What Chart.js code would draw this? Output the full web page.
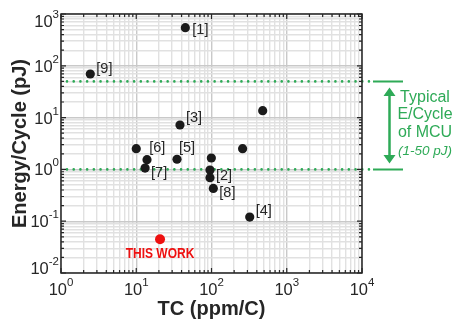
<!DOCTYPE html>
<html>
<head>
<meta charset="utf-8">
<script src="https://cdn.jsdelivr.net/npm/chart.js@4"></script>
<style>
  html, body { margin: 0; padding: 0; background: #fff; }
  #wrap { width: 453px; height: 320px; }
</style>
</head>
<body>
<div id="wrap"><canvas id="chart"></canvas></div>
<script>
// ---- data ----
const refTC     = [44.9, 2.45, 38.1, 10.0, 13.9, 13.1, 34.8, 99.5, 95.5, 95.5, 105.7, 259, 479, 322];
const refEnergy = [545, 69.5, 7.2, 2.51, 1.54, 1.06, 1.57, 1.66, 0.97, 0.69, 0.43, 2.51, 13.6, 0.12];
const refNames  = ['[1]', '[9]', '[3]', '[6]', '', '[7]', '[5]', '', '[2]', '', '[8]', '', '', '[4]'];
const thisTC = [20.7];
const thisEnergy = [0.0448];
const thisName = 'THIS WORK';
const mcuBand = [1, 50];          // typical E/cycle of MCU, pJ
const mcuText = ['Typical', 'E/Cycle', 'of MCU'];
const mcuRange = '(1-50 pJ)';
const xDecades = [0, 1, 2, 3, 4];
const yDecades = [-2, -1, 0, 1, 2, 3];
const xTitle = 'TC (ppm/C)';
const yTitle = 'Energy/Cycle (pJ)';

// label nudges (px) relative to each marker
const labelNudge = [[7, 2], [6, -5], [6, -7], [13, -1], [0, 0], [6, 5], [2, -11], [0, 0], [6, 5.5], [0, 0], [6, 5], [0, 0], [0, 0], [6, -6.5]];

const GREEN = '#2eaa57';
const INK = '#262626';

function logTicks(decades) {
    const out = [];
    decades.forEach((e, i) => {
        const steps = i === decades.length - 1 ? 1 : 9;
        for (let s = 1; s <= steps; s++) {
            out.push({ value: s * Math.pow(10, e), major: s === 1 });
        }
    });
    return out;
}

const gridColor = (c) => (c.tick && c.tick.major) ? '#c9c9c9' : '#e1e1e1';

const overlay = {
    id: 'overlay',
    beforeDatasetsDraw(chart) {
        const { ctx, chartArea: a, scales: { y } } = chart;
        ctx.save();
        ctx.strokeStyle = GREEN;
        ctx.lineWidth = 2.6;
        ctx.lineCap = 'round';
        ctx.setLineDash([0.01, 6.7]);
        mcuBand.forEach(v => {
            const py = y.getPixelForValue(v);
            ctx.beginPath();
            ctx.moveTo(a.left + 6, py);
            ctx.lineTo(a.right + 9, py);
            ctx.stroke();
        });
        ctx.restore();
    },
    afterDatasetsDraw(chart) {
        const { ctx, chartArea: a, scales: { x, y } } = chart;
        ctx.save();

        // axes box with inward ticks
        ctx.strokeStyle = INK;
        ctx.lineWidth = 1.5;
        ctx.strokeRect(a.left, a.top, a.right - a.left, a.bottom - a.top);
        ctx.lineWidth = 1.2;
        ctx.beginPath();
        x.ticks.forEach(t => {
            const px = x.getPixelForValue(t.value);
            const len = t.major ? 5 : 3;
            ctx.moveTo(px, a.bottom); ctx.lineTo(px, a.bottom - len);
            ctx.moveTo(px, a.top); ctx.lineTo(px, a.top + len);
        });
        y.ticks.forEach(t => {
            const py = y.getPixelForValue(t.value);
            const len = t.major ? 5 : 3;
            ctx.moveTo(a.left, py); ctx.lineTo(a.left + len, py);
            ctx.moveTo(a.right, py); ctx.lineTo(a.right - len, py);
        });
        ctx.stroke();

        // tick labels 10^n
        ctx.fillStyle = INK;
        ctx.textBaseline = 'alphabetic';
        const baseFont = '16.5px "Liberation Sans", Arial, sans-serif';
        const expFont = '11.5px "Liberation Sans", Arial, sans-serif';
        xDecades.forEach(e => {
            const px = x.getPixelForValue(Math.pow(10, e));
            ctx.font = baseFont;
            const wb = ctx.measureText('10').width;
            ctx.font = expFont;
            const we = ctx.measureText(String(e)).width;
            const x0 = px - (wb + we) / 2;
            ctx.textAlign = 'left';
            ctx.font = baseFont;
            ctx.fillText('10', x0, 295);
            ctx.font = expFont;
            ctx.fillText(String(e), x0 + wb, 286);
        });
        yDecades.forEach(e => {
            const py = Math.min(268, Math.max(21, y.getPixelForValue(Math.pow(10, e))));
            const label = e < 0 ? '-' + Math.abs(e) : String(e);
            ctx.font = expFont;
            const we = ctx.measureText(label).width;
            ctx.textAlign = 'right';
            ctx.fillText(label, 59, py - 3);
            ctx.font = baseFont;
            ctx.fillText('10', 59 - we, py + 6);
        });

        // axis titles
        ctx.font = 'bold 20px "Liberation Sans", Arial, sans-serif';
        ctx.textAlign = 'center';
        ctx.fillText(xTitle, (a.left + a.right) / 2, 315);
        ctx.save();
        ctx.translate(26, (a.top + a.bottom) / 2);
        ctx.rotate(-Math.PI / 2);
        ctx.fillText(yTitle, 0, 0);
        ctx.restore();

        // point labels
        const meta = chart.getDatasetMeta(0);
        ctx.font = '14.5px "Liberation Sans", Arial, sans-serif';
        ctx.textAlign = 'left';
        ctx.textBaseline = 'middle';
        meta.data.forEach((pt, i) => {
            if (!refNames[i]) return;
            ctx.fillText(refNames[i], pt.x + labelNudge[i][0], pt.y + labelNudge[i][1]);
        });
        const tw = chart.getDatasetMeta(1).data[0];
        ctx.fillStyle = '#ee1111';
        ctx.font = 'bold 15px "Liberation Sans", Arial, sans-serif';
        ctx.textAlign = 'center';
        ctx.save();
        ctx.translate(tw.x, tw.y + 14.5);
        ctx.scale(0.8, 1);
        ctx.fillText(thisName, 0, 0);
        ctx.restore();

        // MCU band annotation on the right
        const yTop = y.getPixelForValue(mcuBand[1]);
        const yBot = y.getPixelForValue(mcuBand[0]);
        ctx.strokeStyle = GREEN;
        ctx.fillStyle = GREEN;
        ctx.lineWidth = 2;
        ctx.beginPath();
        [yTop, yBot].forEach(py => { ctx.moveTo(373, py); ctx.lineTo(403, py); });
        ctx.stroke();
        const ax = 389.5;
        ctx.lineWidth = 2.5;
        ctx.beginPath();
        ctx.moveTo(ax, yTop + 12); ctx.lineTo(ax, yBot - 12);
        ctx.stroke();
        ctx.beginPath();
        ctx.moveTo(ax, yTop + 6); ctx.lineTo(ax - 6, yTop + 14.5); ctx.lineTo(ax + 6, yTop + 14.5); ctx.closePath();
        ctx.moveTo(ax, yBot - 6); ctx.lineTo(ax - 6, yBot - 14.5); ctx.lineTo(ax + 6, yBot - 14.5); ctx.closePath();
        ctx.fill();

        ctx.textAlign = 'center';
        ctx.textBaseline = 'alphabetic';
        ctx.font = '16px "Liberation Sans", Arial, sans-serif';
        mcuText.forEach((s, i) => ctx.fillText(s, 425, 101.5 + i * 17.6));
        ctx.font = 'italic 13.5px "Liberation Sans", Arial, sans-serif';
        ctx.fillText(mcuRange, 425, 155);

        ctx.restore();
    }
};

new Chart(document.getElementById('chart'), {
    type: 'scatter',
    data: {
        datasets: [{
            data: refTC.map((v, i) => ({ x: v, y: refEnergy[i] })),
            backgroundColor: '#1a1a1a',
            borderWidth: 0,
            pointRadius: 4.6
        }, {
            data: thisTC.map((v, i) => ({ x: v, y: thisEnergy[i] })),
            backgroundColor: '#ee1111',
            borderWidth: 0,
            pointRadius: 5
        }]
    },
    options: {
        responsive: true,
        maintainAspectRatio: false,
        animation: false,
        layout: { padding: { top: 14, right: 91, left: 0, bottom: 0 } },
        plugins: { legend: { display: false }, tooltip: { enabled: false } },
        scales: {
            x: {
                type: 'logarithmic',
                min: 1, max: 1e4,
                afterBuildTicks: (s) => { s.ticks = logTicks(xDecades); },
                afterFit: (s) => { s.height = 47; },
                ticks: { display: false },
                border: { display: false },
                grid: { color: gridColor, lineWidth: 1.4, drawTicks: false }
            },
            y: {
                type: 'logarithmic',
                min: 0.01, max: 1000,
                afterBuildTicks: (s) => { s.ticks = logTicks(yDecades); },
                afterFit: (s) => { s.width = 61; },
                ticks: { display: false },
                border: { display: false },
                grid: { color: gridColor, lineWidth: 1.4, drawTicks: false }
            }
        }
    },
    plugins: [overlay]
});
</script>
</body>
</html>
